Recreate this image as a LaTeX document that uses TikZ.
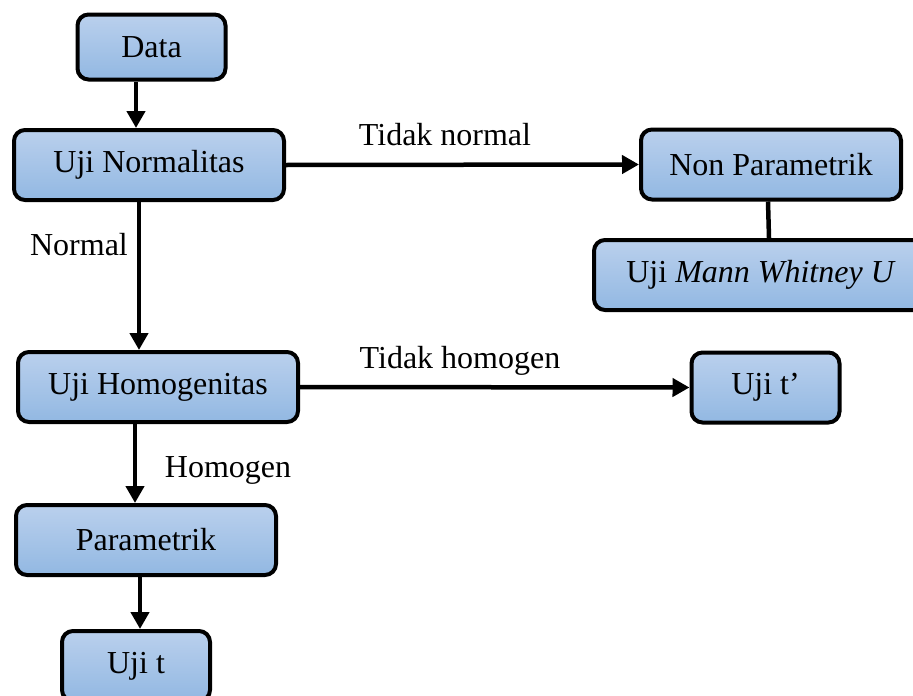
\documentclass[tikz,border=0pt]{standalone}
\usepackage{fontspec}
\setmainfont{Liberation Serif}
\usetikzlibrary{arrows.meta}

\definecolor{boxtop}{RGB}{186,208,237}
\definecolor{boxbot}{RGB}{146,184,226}

\tikzset{
  flowbox/.style={draw=black, line width=4pt, rounded corners=11pt,
    top color=boxtop, bottom color=boxbot, minimum height=70pt, inner sep=0pt},
  flowline/.style={line width=4.5pt},
  flowlabel/.style={anchor=base, inner sep=0pt},
}

\begin{document}
\begin{tikzpicture}[x=1pt,y=-1pt,>={Triangle[length=17pt,width=18pt]},
    font=\fontsize{32}{36}\selectfont]
  \useasboundingbox (0,0) rectangle (913,696);
  % left column
  \node[flowbox, minimum width=148pt, minimum height=65pt] (data)   at (151.5,47)  {Data};
  \node[flowbox, minimum width=270pt] (normal) at (149,165)   {Uji Normalitas};
  \node[flowbox, minimum width=280pt] (homog)  at (158,387)   {Uji Homogenitas};
  \node[flowbox, minimum width=260pt] (param)  at (146,540)   {Parametrik};
  \node[flowbox, minimum width=148pt] (ujit)   at (136,666) {Uji t};
  % right column
  \node[flowbox, minimum width=260pt] (nonpar) at (771,164.5) {Non Parametrik};
  \node[flowbox, minimum width=334pt] (mann)   at (761,275)   {Uji \textit{Mann Whitney U}};
  \node[flowbox, minimum width=148pt] (ujitp)  at (765.5,387.5) {Uji t’};

  % connectors
  \draw[flowline,->] ([xshift=-15.5pt]data.south) -- ([xshift=-15.5pt]data.south |- normal.north);
  \draw[flowline,->] (normal.east) -- (nonpar.west);
  \draw[flowline,->] ([xshift=-10pt]normal.south) -- ([xshift=-10pt]normal.south |- homog.north);
  \draw[flowline] ([xshift=-3pt]nonpar.south) -- ([xshift=-2pt]nonpar.south |- mann.north);
  \draw[flowline,->] (homog.east) -- (ujitp.west);
  \draw[flowline,->] ([xshift=-23pt]homog.south) -- ([xshift=-23pt]homog.south |- param.north);
  \draw[flowline,->] ([xshift=-6pt]param.south) -- ([xshift=-6pt]param.south |- ujit.north);

  % labels
  \node[flowlabel] (lbltidaknormal) at (445,145) {Tidak normal};
  \node[flowlabel] (lblnormal)      at (79,255)  {Normal};
  \node[flowlabel] (lbltidakhomog)  at (460,368) {Tidak homogen};
  \node[flowlabel] (lblhomog)       at (228,477) {Homogen};
\end{tikzpicture}
\end{document}
